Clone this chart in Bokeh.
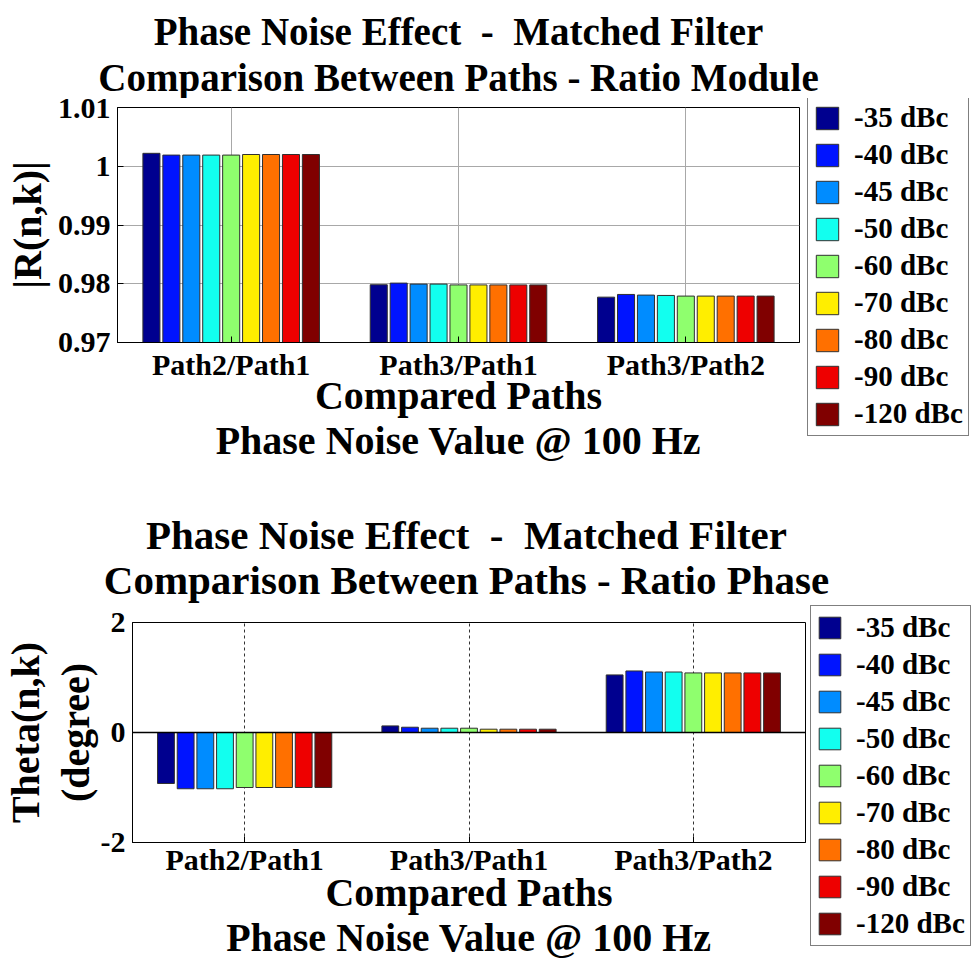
from bokeh.plotting import figure
from bokeh.models import (ColumnDataSource, FactorRange, FixedTicker, Legend,
                          LegendItem, Span, Range1d, Label)
from bokeh.transform import dodge
from bokeh.layouts import column, row
from bokeh.embed import file_html
from bokeh.resources import INLINE

# ---------------- data ----------------
paths = ["Path2/Path1", "Path3/Path1", "Path3/Path2"]
levels = ["-35 dBc", "-40 dBc", "-45 dBc", "-50 dBc", "-60 dBc",
          "-70 dBc", "-80 dBc", "-90 dBc", "-120 dBc"]
colors = ["#00008f", "#0014ff", "#008cff", "#12ffef", "#8fff6e",
          "#ffee00", "#ff7000", "#ee0000", "#800000"]

# |R(n,k)| per level, for each compared path pair
module_p21 = [1.0022, 1.0019, 1.0019, 1.0019, 1.0019, 1.0020, 1.0020, 1.0020, 1.0020]
module_p31 = [0.97983, 0.98011, 0.97994, 0.97994, 0.97980, 0.97980, 0.97980, 0.97980, 0.97980]
module_p32 = [0.97772, 0.97818, 0.97807, 0.97801, 0.97790, 0.97790, 0.97790, 0.97790, 0.97790]

# Theta(n,k) in degrees
phase_p21 = [-0.927, -1.023, -1.023, -1.023, -1.000, -1.000, -1.000, -1.000, -1.000]
phase_p31 = [0.120, 0.096, 0.078, 0.078, 0.078, 0.060, 0.060, 0.060, 0.060]
phase_p32 = [1.047, 1.119, 1.100, 1.100, 1.083, 1.083, 1.083, 1.083, 1.083]

module_ticks = [0.97, 0.98, 0.99, 1.0, 1.01]
module_tick_labels = ["0.97", "0.98", "0.99", "1", "1.01"]
phase_ticks = [-2, 0, 2]
phase_tick_labels = ["-2", "0", "2"]

title_line1 = "Phase Noise Effect\u00a0 -\u00a0 Matched Filter"
module_title_line2 = "Comparison Between Paths - Ratio Module"
phase_title_line2 = "Comparison Between Paths - Ratio Phase"

FONT = "Liberation Serif"
SLOT = 0.0877
BAR_W = 0.075


def no_align(fig):
    if "frame_align" in fig.properties():
        fig.frame_align = False


def add_bars(p, v21, v31, v32, base):
    rs = []
    for i, lv in enumerate(levels):
        src = ColumnDataSource(dict(path=paths, value=[v21[i], v31[i], v32[i]]))
        r = p.vbar(x=dodge("path", (i - 4) * SLOT, range=p.x_range), top="value",
                   bottom=base, width=BAR_W, fill_color=colors[i],
                   line_color="#303030", line_width=1, source=src)
        rs.append(r)
    return rs


def title_fig(lines, height, cx, baselines, size):
    t = figure(width=972, height=height, x_range=Range1d(0, 972),
               y_range=Range1d(height, 0), output_backend="svg",
               toolbar_location=None, x_axis_location=None,
               y_axis_location=None, min_border=0, title=None)
    no_align(t)
    t.grid.grid_line_color = None
    t.outline_line_color = None
    for line, b in zip(lines, baselines):
        t.add_layout(Label(x=cx, y=b, text=line, text_align="center",
                           text_baseline="alphabetic", text_font=FONT,
                           text_font_style="bold", text_font_size=size,
                           text_color="black"))
    return t


def build(ylabel, v21, v31, v32, yr, ticks, tick_labels,
          width, height, borders, dashed_grid, xcfg, ycfg):
    left, right, top, bottom = borders
    p = figure(width=width, height=height, x_range=FactorRange(factors=paths),
               y_range=Range1d(*yr), output_backend="svg", toolbar_location=None,
               title=None,
               min_border_left=left, min_border_right=right,
               min_border_top=top, min_border_bottom=bottom)
    no_align(p)
    add_bars(p, v21, v31, v32, yr[0] if yr[0] > 0 else 0)

    p.yaxis.ticker = FixedTicker(ticks=ticks)
    p.yaxis.major_label_overrides = {t: s for t, s in zip(ticks, tick_labels)}
    p.ygrid.ticker = FixedTicker(ticks=ticks)

    for ax in (p.xaxis, p.yaxis):
        ax.major_label_text_font = FONT
        ax.major_label_text_font_style = "bold"
        ax.major_label_text_font_size = "30px"
        ax.major_label_text_color = "black"
        ax.axis_label_text_font = FONT
        ax.axis_label_text_font_style = "bold"
        ax.axis_label_text_font_size = "40px"
        ax.axis_label_text_color = "black"
        ax.major_tick_out = 0
        ax.major_tick_in = 6
        ax.minor_tick_line_color = None
        ax.axis_line_color = "black"
        ax.major_tick_line_color = "black"
    p.yaxis.axis_label_text_line_height = 1.1
    p.xaxis.axis_label_text_line_height = xcfg[2]
    p.xaxis.axis_label = "Compared Paths\nPhase Noise Value @ 100 Hz"
    p.yaxis.axis_label = ylabel
    p.xaxis.major_label_standoff = xcfg[0]
    p.xaxis.axis_label_standoff = xcfg[1]
    p.yaxis.major_label_standoff = ycfg[0]
    p.yaxis.axis_label_standoff = ycfg[1]

    p.outline_line_color = "black"
    p.outline_line_width = 1
    if dashed_grid:
        p.xgrid.grid_line_color = "#333333"
        p.xgrid.grid_line_dash = "3 3"
        p.ygrid.grid_line_color = None
        p.add_layout(Span(location=0, dimension="width", line_color="black",
                          line_width=1.5))
    else:
        p.xgrid.grid_line_color = "#a8a8a8"
        p.ygrid.grid_line_color = "#a8a8a8"
    return p


def build_legend(v21, v31, v32, width, height, loc, geom):
    # a bare panel holding only the legend (its own bar renderers are hidden)
    q = figure(width=width, height=height, x_range=FactorRange(factors=paths),
               y_range=Range1d(-2, 2), output_backend="svg",
               toolbar_location=None, x_axis_location=None,
               y_axis_location=None, min_border=0, title=None)
    no_align(q)
    q.grid.grid_line_color = None
    q.outline_line_color = None
    rs = add_bars(q, v21, v31, v32, 0)
    for r in rs:
        r.visible = False
    glyph, spacing, pad = geom
    legend = Legend(items=[LegendItem(label=lv, renderers=[r])
                           for lv, r in zip(levels, rs)],
                    location=loc, glyph_width=glyph,
                    glyph_height=glyph, label_height=glyph, spacing=spacing,
                    padding=pad, margin=0, label_standoff=13,
                    label_text_font=FONT, label_text_font_style="bold",
                    label_text_font_size="29px", label_text_color="black",
                    border_line_color="black", border_line_width=1,
                    background_fill_color="white", background_fill_alpha=1,
                    inactive_fill_alpha=0)
    q.add_layout(legend)
    return q


t1 = title_fig([title_line1, module_title_line2], 98, 458, [31, 77], "39px")
p1 = build("|R(n,k)|", module_p21, module_p31, module_p32, (0.97, 1.01),
           module_ticks, module_tick_labels, 805, 372, (117, 6, 9, 128),
           False, (5, -11, 1.0), (7, 5))
l1 = build_legend(module_p21, module_p31, module_p32, 167, 372, (2, 34), (28, 4, 5))

t2 = title_fig([title_line1, phase_title_line2], 135, 466, [64, 109], "41px")
p2 = build("Theta(n,k)\n(degree)", phase_p21, phase_p31, phase_p32, (-2, 2),
           phase_ticks, phase_tick_labels, 808, 357, (127, 3, 17, 119),
           True, (0, -9, 1.0), (7, 0))
l2 = build_legend(phase_p21, phase_p31, phase_p32, 164, 357, (2, 16), (27, 4, 5))

layout = column(t1, row(p1, l1, spacing=0), t2, row(p2, l2, spacing=0), spacing=0)
open("out.html", "w").write(file_html(layout, INLINE))
